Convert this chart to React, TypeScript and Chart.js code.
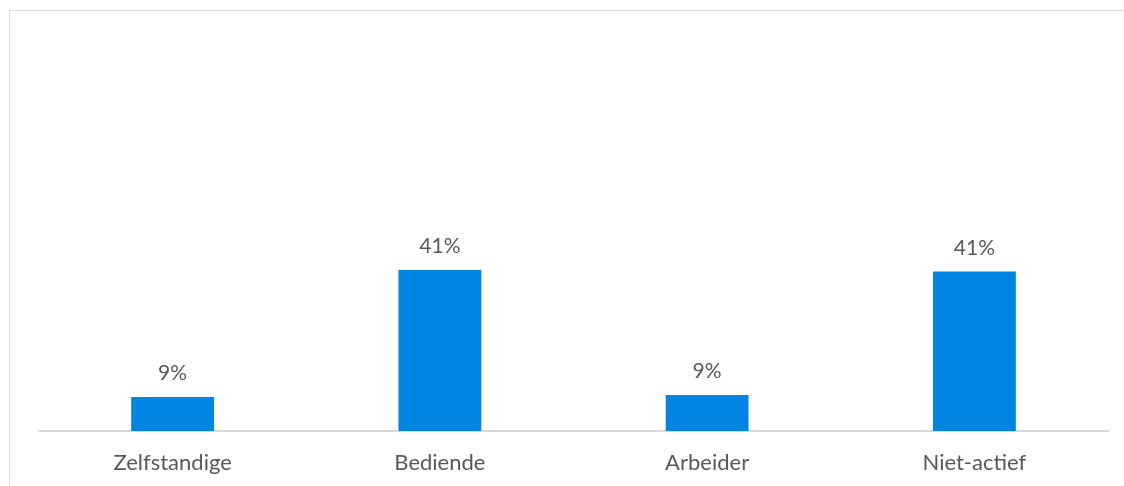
import React, { useEffect, useRef } from "react";
import { Chart, registerables } from "chart.js";

Chart.register(...registerables);

const categories = ["Zelfstandige", "Bediende", "Arbeider", "Niet-actief"];
const shares = [8.7, 41.2, 9.2, 40.8];
const shareLabels = ["9%", "41%", "9%", "41%"];

const FONT = "Lato";
const TEXT = "#595959";

const labelPlugin = {
  id: "barLabels",
  afterDatasetsDraw(chart: any) {
    const ctx = chart.ctx;
    const meta = chart.getDatasetMeta(0);
    ctx.save();
    ctx.font = `21px ${FONT}`;
    ctx.fillStyle = TEXT;
    ctx.textAlign = "center";
    ctx.textBaseline = "bottom";
    meta.data.forEach((bar: any, i: number) => {
      ctx.fillText(shareLabels[i], bar.x, bar.y - 13);
    });
    ctx.restore();
  },
};

export default function App() {
  const ref = useRef<HTMLCanvasElement | null>(null);
  useEffect(() => {
    if (!ref.current) return;
    const chart = new Chart(ref.current, {
      type: "bar",
      data: {
        labels: categories,
        datasets: [
          {
            data: shares,
            backgroundColor: "#0085E3",
            barPercentage: 0.31,
            categoryPercentage: 1,
          },
        ],
      },
      options: {
        animation: false,
        responsive: false,
        maintainAspectRatio: false,
        layout: { padding: { left: 39, right: 16, top: 40, bottom: 0 } },
        plugins: { legend: { display: false }, tooltip: { enabled: false } },
        scales: {
          y: { display: false, min: 0, max: 100 },
          x: {
            grid: { display: false, drawTicks: false },
            border: { display: true, color: "#d9d9d9", width: 2 },
            ticks: {
              color: TEXT,
              font: { family: FONT, size: 22 },
              padding: 19,
              maxRotation: 0,
            },
            afterFit: (s: any) => {
              s.height = 55;
            },
          },
        },
      },
      plugins: [labelPlugin],
    });
    return () => chart.destroy();
  }, []);
  return (
    <div
      style={{
        position: "fixed",
        left: 0,
        top: 0,
        width: 1124,
        height: 486,
        overflow: "hidden",
        background: "#fff",
      }}
    >
      <div
        style={{
          position: "absolute",
          left: 9,
          top: 10,
          width: 1300,
          height: 700,
          border: "1px solid #d9d9d9",
          borderRightWidth: 0,
          borderBottomWidth: 0,
        }}
      />
      <canvas
        ref={ref}
        width={1124}
        height={486}
        style={{ position: "absolute", left: 0, top: 0, width: 1124, height: 486 }}
      />
    </div>
  );
}
